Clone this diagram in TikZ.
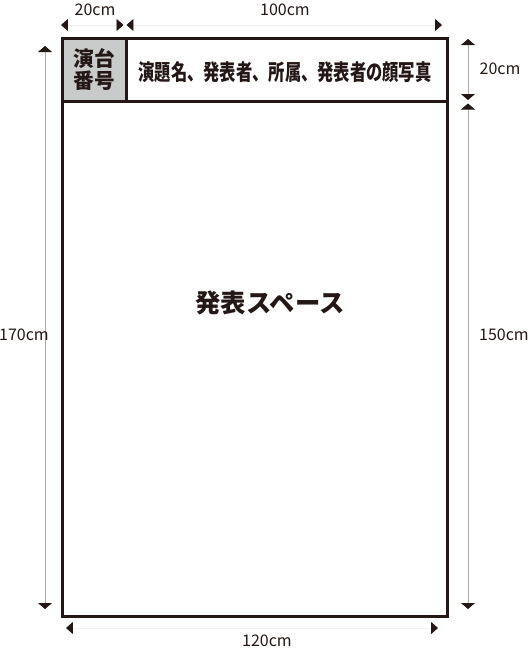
\documentclass[tikz,border=0pt]{standalone}
\usepackage{fontspec}
\setmainfont{Noto Sans CJK JP}
\newfontfamily\condfont[FakeStretch=0.74]{Noto Sans CJK JP}
\usetikzlibrary{arrows.meta}
\definecolor{ink}{HTML}{231815}
\definecolor{boxgray}{HTML}{C9CACA}
\definecolor{dimgray}{HTML}{A8A8A8}
\definecolor{faintgray}{HTML}{F2F2F2}
\tikzset{
  tip/.style={Triangle[length=4.9pt,width=10pt,color=ink]},
  vdim/.style={dimgray,line width=0.6pt,{Triangle[length=4.5pt,width=10.5pt,color=ink]}-{Triangle[length=4.5pt,width=10.5pt,color=ink]}},
  hdim/.style={faintgray,line width=0.6pt,{Triangle[length=5.2pt,width=9pt,color=ink]}-{Triangle[length=5.2pt,width=9pt,color=ink]}},
  dimlabel/.style={ink,font=\fontsize{12pt}{14pt}\selectfont,inner sep=0pt},
}
\begin{document}
\begin{tikzpicture}[x=0.75pt,y=-0.75pt]
\useasboundingbox (0,0) rectangle (530,653);
% board
\fill[boxgray] (62,38) rectangle (126,101);
\draw[ink,line width=2.25pt] (62,38) rectangle (447,616);
\draw[ink,line width=2.25pt] (62,101) -- (447,101);
\draw[ink,line width=2.25pt] (126,38) -- (126,101);
\node[ink,align=center,inner sep=0pt,font=\fontsize{15.5pt}{16pt}\selectfont\bfseries] (num) at (94,69.5) {演台\\番号};
\node[ink,inner sep=0pt,font=\fontsize{16.5pt}{18pt}\selectfont\condfont\bfseries] (head) at (285,72) {演題名、発表者、所属、発表者の顔写真};
\node[ink,inner sep=0pt,font=\fontsize{19pt}{20pt}\selectfont\bfseries] (space) at (270,303) {発表スペース};
% dimension end points
\coordinate (tl) at (61,25);
\coordinate (tm1) at (123.5,25);
\coordinate (tm2) at (126.5,25);
\coordinate (tr) at (442,25);
\coordinate (lt) at (45,46);
\coordinate (lb) at (45,609);
\coordinate (rt) at (468,39);
\coordinate (rm1) at (468,100);
\coordinate (rm2) at (468,103.5);
\coordinate (rb) at (468,609);
\coordinate (bl) at (66,628);
\coordinate (br) at (438,628);
% dimension lines
\draw[hdim] (tl) -- (tm1);
\draw[hdim] (tm2) -- (tr);
\draw[vdim] (lt) -- (lb);
\draw[vdim] (rt) -- (rm1);
\draw[vdim] (rm2) -- (rb);
\draw[hdim] (bl) -- (br);
% labels
\node[dimlabel] (w20) at (95,10) {20cm};
\node[dimlabel] (w100) at (285,10) {100cm};
\node[dimlabel] (h20) at (500,69) {20cm};
\node[dimlabel] (h170) at (24,335) {170cm};
\node[dimlabel] (h150) at (504,335) {150cm};
\node[dimlabel] (w120) at (267,641) {120cm};
\end{tikzpicture}
\end{document}
